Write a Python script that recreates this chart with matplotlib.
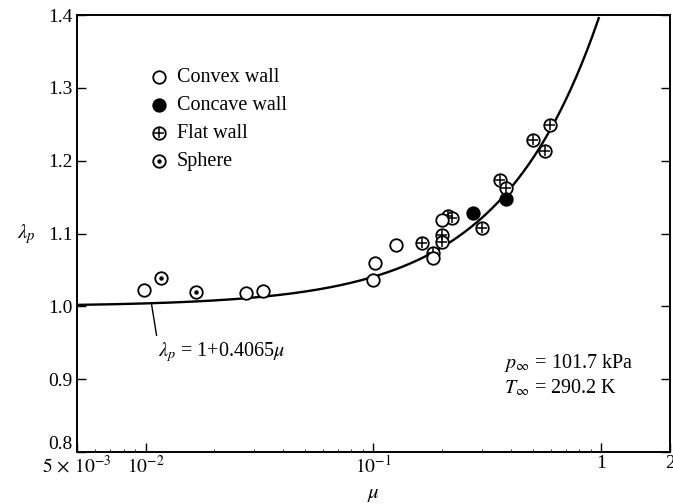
import matplotlib
matplotlib.use("Agg")
import matplotlib.pyplot as plt
import numpy as np
from matplotlib.ticker import FixedLocator, FixedFormatter, LogLocator, NullFormatter
from matplotlib.transforms import ScaledTranslation

plt.rcParams["font.family"] = ["Liberation Serif", "DejaVu Serif"]
plt.rcParams["mathtext.fontset"] = "stix"

# Data
convex_mu = [0.0098, 0.0275, 0.0326, 0.100, 0.102, 0.125, 0.183, 0.199]
convex_lam = [1.022, 1.018, 1.021, 1.036, 1.059, 1.084, 1.066, 1.118]
concave_mu = [0.272, 0.380]
concave_lam = [1.128, 1.147]
flat_mu = [0.164, 0.183, 0.199, 0.199, 0.212, 0.222, 0.298, 0.360, 0.383, 0.503, 0.567, 0.597]
flat_lam = [1.087, 1.073, 1.098, 1.089, 1.124, 1.121, 1.107, 1.173, 1.162, 1.228, 1.213, 1.249]
sphere_mu = [0.01164, 0.01656]
sphere_lam = [1.039, 1.020]

x_ticks = [5e-3, 1e-2, 1e-1, 1, 2]
x_ticklabels = [r"$5\,\times\,10^{-3}$", r"$10^{-2}$", r"$10^{-1}$", "1", "2"]
y_ticks = [0.8, 0.9, 1.0, 1.1, 1.2, 1.3, 1.4]

# fit curve lambda_p = 1 + 0.4065 mu
mu_curve = np.logspace(np.log10(5e-3), 0.0, 400)
mu_curve = mu_curve[1 + 0.4065 * mu_curve <= 1.4]
lam_curve = 1 + 0.4065 * mu_curve

MS = 9.0
MEW = 1.3
FS = 14.5


def draw(ax, x, y, kind, **kw):
    if kind == "convex":
        ax.plot(x, y, "o", mfc="white", mec="k", ms=MS, mew=MEW, ls="none", **kw)
    elif kind == "concave":
        ax.plot(x, y, "o", mfc="k", mec="k", ms=MS, mew=MEW, ls="none", **kw)
    elif kind == "flat":
        ax.plot(x, y, "o", mfc="white", mec="k", ms=MS, mew=MEW, ls="none", **kw)
        ax.plot(x, y, "+", color="k", ms=MS - 1.2, mew=1.1, ls="none", **kw)
    elif kind == "sphere":
        ax.plot(x, y, "o", mfc="white", mec="k", ms=MS, mew=MEW, ls="none", **kw)
        ax.plot(x, y, "o", mfc="k", mec="k", ms=3.2, mew=0, ls="none", **kw)


fig = plt.figure(figsize=(6.73, 5.04), dpi=100)
ax = fig.add_axes([0.1144, 0.1032, 0.8811, 0.8668])

ax.plot(mu_curve, lam_curve, color="k", lw=1.7, zorder=2)

draw(ax, flat_mu, flat_lam, "flat", zorder=3)
draw(ax, convex_mu, convex_lam, "convex", zorder=3)
draw(ax, concave_mu, concave_lam, "concave", zorder=3)
draw(ax, sphere_mu, sphere_lam, "sphere", zorder=3)

ax.set_xscale("log")
ax.set_xlim(5e-3, 2)
ax.set_ylim(0.8, 1.4)

ax.xaxis.set_major_locator(FixedLocator(x_ticks))
ax.xaxis.set_major_formatter(FixedFormatter(x_ticklabels))
ax.xaxis.set_minor_locator(LogLocator(base=10, subs=np.arange(2, 10)))
ax.xaxis.set_minor_formatter(NullFormatter())
ax.set_yticks(y_ticks)
ax.set_yticklabels([f"{v:.1f}" for v in y_ticks])

ax.tick_params(which="major", direction="in", length=6.5, width=1.0,
               labelsize=14, pad=3, right=True, top=False)
ax.tick_params(which="minor", direction="in", length=2, width=0.6, top=False)
ax.tick_params(axis="x", pad=2)
for s in ax.spines.values():
    s.set_linewidth(1.4)

# lift the 0.8 label a little so it clears the x labels, as in the original
lab = ax.get_yticklabels()[0]
lab.set_transform(lab.get_transform() + ScaledTranslation(0, 7 / 72, fig.dpi_scale_trans))

ax.set_xlabel(r"$\mu$", fontsize=15, labelpad=6)
ax.set_ylabel(r"$\lambda_p$", fontsize=15, rotation=0, labelpad=16, va="center")

# legend drawn by hand
legend_rows = [("convex", "Convex wall"), ("concave", "Concave wall"),
               ("flat", "Flat wall"), ("sphere", "Sphere")]
for i, (kind, label) in enumerate(legend_rows):
    yy = 0.858 - i * 0.064
    draw(ax, [0.138], [yy], kind, transform=ax.transAxes, clip_on=False)
    ax.text(0.168, yy, label, transform=ax.transAxes, fontsize=FS, va="center")

# annotation of the curve
ax.plot([0.0106, 0.01117], [1.0045, 0.9604], color="k", lw=1.0)
ax.text(0.0113, 0.937, r"$\lambda_p$ = 1+0.4065$\mu$", fontsize=FS, va="center")

ax.text(0.372, 0.922, r"$p_\infty$ = 101.7 kPa", fontsize=FS, va="center")
ax.text(0.372, 0.888, r"$T_\infty$ = 290.2 K", fontsize=FS, va="center")

fig.set_facecolor("white")
fig.savefig("out.png", dpi=100)
